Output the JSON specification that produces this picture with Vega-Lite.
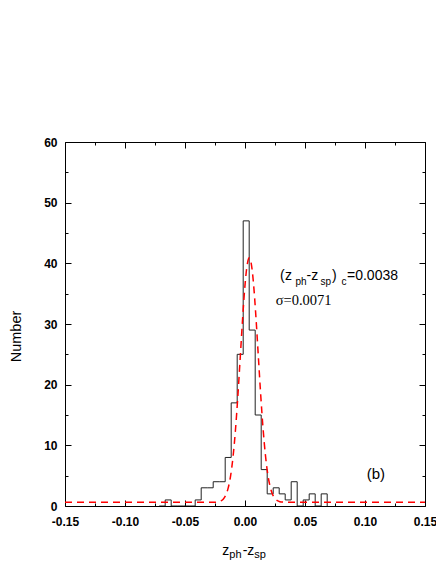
{
  "$schema": "https://vega.github.io/schema/vega-lite/v6.json",
  "width": 360,
  "height": 364,
  "autosize": {"type": "none"},
  "padding": {"left": 65, "top": 142, "right": 11, "bottom": 58},
  "background": "white",
  "config": {
    "view": {"stroke": "black", "strokeWidth": 1},
    "axis": {"grid": false, "domain": false, "tickColor": "black", "tickWidth": 1, "labelColor": "black", "labelFlush": false, "titleColor": "black"}
  },
  "datasets": {
    "hist": [
      {"bin_start": -0.0715, "count": 0},
      {"bin_start": -0.0665, "count": 1},
      {"bin_start": -0.0615, "count": 0},
      {"bin_start": -0.0565, "count": 0},
      {"bin_start": -0.0515, "count": 0},
      {"bin_start": -0.0465, "count": 0},
      {"bin_start": -0.0415, "count": 1},
      {"bin_start": -0.0365, "count": 3},
      {"bin_start": -0.0315, "count": 3},
      {"bin_start": -0.0265, "count": 4},
      {"bin_start": -0.0215, "count": 4},
      {"bin_start": -0.0165, "count": 8},
      {"bin_start": -0.0115, "count": 17},
      {"bin_start": -0.0065, "count": 25},
      {"bin_start": -0.0015, "count": 47},
      {"bin_start": 0.0035, "count": 29},
      {"bin_start": 0.0085, "count": 15},
      {"bin_start": 0.0135, "count": 6},
      {"bin_start": 0.0185, "count": 2},
      {"bin_start": 0.0235, "count": 3},
      {"bin_start": 0.0285, "count": 2},
      {"bin_start": 0.0335, "count": 1},
      {"bin_start": 0.0385, "count": 4},
      {"bin_start": 0.0435, "count": 0},
      {"bin_start": 0.0485, "count": 1},
      {"bin_start": 0.0535, "count": 2},
      {"bin_start": 0.0585, "count": 0},
      {"bin_start": 0.0635, "count": 2},
      {"bin_start": 0.0685, "count": 0}
    ],
    "fit": [
      {"x": -0.15, "y": 0.6},
      {"x": -0.05, "y": 0.6},
      {"x": -0.03, "y": 0.6},
      {"x": -0.025, "y": 0.62},
      {"x": -0.022, "y": 0.7},
      {"x": -0.02, "y": 0.85},
      {"x": -0.018, "y": 1.17},
      {"x": -0.016, "y": 1.81},
      {"x": -0.014, "y": 2.98},
      {"x": -0.012, "y": 4.97},
      {"x": -0.01, "y": 8.05},
      {"x": -0.008, "y": 12.4},
      {"x": -0.006, "y": 17.97},
      {"x": -0.004, "y": 24.38},
      {"x": -0.002, "y": 30.87},
      {"x": -0.001, "y": 33.82},
      {"x": 0, "y": 36.4},
      {"x": 0.001, "y": 38.49},
      {"x": 0.002, "y": 39.97},
      {"x": 0.003, "y": 40.77},
      {"x": 0.0036, "y": 40.9},
      {"x": 0.0045, "y": 40.6},
      {"x": 0.005, "y": 40.19},
      {"x": 0.006, "y": 38.84},
      {"x": 0.007, "y": 36.87},
      {"x": 0.009, "y": 31.48},
      {"x": 0.011, "y": 25.04},
      {"x": 0.013, "y": 18.59},
      {"x": 0.015, "y": 12.9},
      {"x": 0.017, "y": 8.42},
      {"x": 0.019, "y": 5.22},
      {"x": 0.021, "y": 3.14},
      {"x": 0.023, "y": 1.9},
      {"x": 0.025, "y": 1.22},
      {"x": 0.027, "y": 0.87},
      {"x": 0.029, "y": 0.71},
      {"x": 0.032, "y": 0.63},
      {"x": 0.035, "y": 0.6},
      {"x": 0.05, "y": 0.6},
      {"x": 0.15, "y": 0.6}
    ]
  },
  "resolve": {"axis": {"x": "independent", "y": "independent"}},
  "layer": [
    {
      "data": {"name": "hist"},
      "mark": {"type": "line", "interpolate": "step-after", "color": "#222222", "strokeWidth": 1, "clip": true},
      "encoding": {
        "x": {"field": "bin_start", "type": "quantitative",
              "scale": {"domain": [-0.15, 0.15], "nice": false, "zero": false},
              "axis": {"orient": "bottom", "values": [-0.15, -0.1, -0.05, 0, 0.05, 0.1, 0.15], "tickSize": -6, "labelPadding": 16,
                       "labelFont": "Liberation Sans", "labelFontWeight": "bold", "labelFontSize": 12,
                       "labelExpr": "replace(format(datum.value, '.2f'), '\u2212', '-')", "title": null}},
        "y": {"field": "count", "type": "quantitative",
              "scale": {"domain": [0, 60], "nice": false, "zero": false},
              "axis": {"orient": "left", "values": [0, 10, 20, 30, 40, 50, 60], "tickSize": -6, "labelPadding": 14,
                       "labelFont": "Liberation Sans", "labelFontWeight": "bold", "labelFontSize": 12, "format": "d",
                       "title": "Number", "titleFont": "Liberation Sans", "titleFontSize": 14.5, "titleFontWeight": "normal",
                       "titleX": -45, "titleY": 194, "titleAngle": -90, "titleAlign": "center", "titleBaseline": "alphabetic"}}
      }
    },
    {
      "data": {"name": "fit"},
      "mark": {"type": "line", "interpolate": "monotone", "color": "#ff0000", "strokeWidth": 1.5, "strokeDash": [7, 5], "clip": true},
      "encoding": {
        "x": {"field": "x", "type": "quantitative",
              "axis": {"orient": "top", "values": [-0.15, -0.1, -0.05, 0, 0.05, 0.1, 0.15], "tickSize": -6, "labels": false, "title": null}},
        "y": {"field": "y", "type": "quantitative",
              "axis": {"orient": "right", "values": [0, 10, 20, 30, 40, 50, 60], "tickSize": -6, "labels": false, "title": null}}
      }
    },
    {
      "data": {"name": "hist"},
      "mark": {"type": "point", "opacity": 0},
      "encoding": {
        "x": {"field": "bin_start", "type": "quantitative",
              "axis": {"orient": "bottom", "values": [-0.125, -0.075, -0.025, 0.025, 0.075, 0.125], "tickSize": -3, "labels": false, "title": null}},
        "y": {"field": "count", "type": "quantitative",
              "axis": {"orient": "left", "values": [5, 15, 25, 35, 45, 55], "tickSize": -3, "labels": false, "title": null}}
      }
    },
    {
      "data": {"name": "hist"},
      "mark": {"type": "point", "opacity": 0},
      "encoding": {
        "x": {"field": "bin_start", "type": "quantitative",
              "axis": {"orient": "top", "values": [-0.125, -0.075, -0.025, 0.025, 0.075, 0.125], "tickSize": -3, "labels": false, "title": null}},
        "y": {"field": "count", "type": "quantitative",
              "axis": {"orient": "right", "values": [5, 15, 25, 35, 45, 55], "tickSize": -3, "labels": false, "title": null}}
      }
    },
    {
      "data": {"values": [{}]},
      "mark": {"type": "text", "align": "left", "baseline": "alphabetic", "font": "Liberation Sans", "fontSize": 14, "color": "black"},
      "encoding": {"x": {"datum": 0.02917, "type": "quantitative", "axis": null}, "y": {"datum": 37.25, "type": "quantitative", "axis": null}, "text": {"value": "("}}
    },
    {
      "data": {"values": [{}]},
      "mark": {"type": "text", "align": "left", "baseline": "alphabetic", "font": "Liberation Sans", "fontSize": 14, "color": "black"},
      "encoding": {"x": {"datum": 0.03333, "type": "quantitative", "axis": null}, "y": {"datum": 37.25, "type": "quantitative", "axis": null}, "text": {"value": "z"}}
    },
    {
      "data": {"values": [{}]},
      "mark": {"type": "text", "align": "left", "baseline": "alphabetic", "font": "Liberation Sans", "fontSize": 10, "color": "black"},
      "encoding": {"x": {"datum": 0.04208, "type": "quantitative", "axis": null}, "y": {"datum": 36.51, "type": "quantitative", "axis": null}, "text": {"value": "ph"}}
    },
    {
      "data": {"values": [{}]},
      "mark": {"type": "text", "align": "left", "baseline": "alphabetic", "font": "Liberation Sans", "fontSize": 14, "color": "black"},
      "encoding": {"x": {"datum": 0.05125, "type": "quantitative", "axis": null}, "y": {"datum": 37.25, "type": "quantitative", "axis": null}, "text": {"value": "-z"}}
    },
    {
      "data": {"values": [{}]},
      "mark": {"type": "text", "align": "left", "baseline": "alphabetic", "font": "Liberation Sans", "fontSize": 10, "color": "black"},
      "encoding": {"x": {"datum": 0.06292, "type": "quantitative", "axis": null}, "y": {"datum": 36.4, "type": "quantitative", "axis": null}, "text": {"value": "sp"}}
    },
    {
      "data": {"values": [{}]},
      "mark": {"type": "text", "align": "left", "baseline": "alphabetic", "font": "Liberation Sans", "fontSize": 14, "color": "black"},
      "encoding": {"x": {"datum": 0.0725, "type": "quantitative", "axis": null}, "y": {"datum": 37.25, "type": "quantitative", "axis": null}, "text": {"value": ")"}}
    },
    {
      "data": {"values": [{}]},
      "mark": {"type": "text", "align": "left", "baseline": "alphabetic", "font": "Liberation Sans", "fontSize": 10, "color": "black"},
      "encoding": {"x": {"datum": 0.08042, "type": "quantitative", "axis": null}, "y": {"datum": 36.35, "type": "quantitative", "axis": null}, "text": {"value": "c"}}
    },
    {
      "data": {"values": [{}]},
      "mark": {"type": "text", "align": "left", "baseline": "alphabetic", "font": "Liberation Sans", "fontSize": 14, "color": "black"},
      "encoding": {"x": {"datum": 0.085, "type": "quantitative", "axis": null}, "y": {"datum": 37.25, "type": "quantitative", "axis": null}, "text": {"value": "=0.0038"}}
    },
    {
      "data": {"values": [{}]},
      "mark": {"type": "text", "align": "left", "baseline": "alphabetic", "font": "Liberation Serif", "fontSize": 14.5, "color": "black"},
      "encoding": {"x": {"datum": 0.02558, "type": "quantitative", "axis": null}, "y": {"datum": 33.13, "type": "quantitative", "axis": null}, "text": {"value": "σ=0.0071"}}
    },
    {
      "data": {"values": [{}]},
      "mark": {"type": "text", "align": "left", "baseline": "alphabetic", "font": "Liberation Sans", "fontSize": 15, "color": "black"},
      "encoding": {"x": {"datum": 0.1014, "type": "quantitative", "axis": null}, "y": {"datum": 4.53, "type": "quantitative", "axis": null}, "text": {"value": "(b)"}}
    },
    {
      "data": {"values": [{}]},
      "mark": {"type": "text", "align": "left", "baseline": "alphabetic", "font": "Liberation Sans", "fontSize": 14, "color": "black"},
      "encoding": {"x": {"datum": -0.01892, "type": "quantitative", "axis": null}, "y": {"datum": -8.08, "type": "quantitative", "axis": null}, "text": {"value": "z"}}
    },
    {
      "data": {"values": [{}]},
      "mark": {"type": "text", "align": "left", "baseline": "alphabetic", "font": "Liberation Sans", "fontSize": 11, "color": "black"},
      "encoding": {"x": {"datum": -0.01308, "type": "quantitative", "axis": null}, "y": {"datum": -8.57, "type": "quantitative", "axis": null}, "text": {"value": "ph"}}
    },
    {
      "data": {"values": [{}]},
      "mark": {"type": "text", "align": "left", "baseline": "alphabetic", "font": "Liberation Sans", "fontSize": 14, "color": "black"},
      "encoding": {"x": {"datum": -0.00192, "type": "quantitative", "axis": null}, "y": {"datum": -8.08, "type": "quantitative", "axis": null}, "text": {"value": "-z"}}
    },
    {
      "data": {"values": [{}]},
      "mark": {"type": "text", "align": "left", "baseline": "alphabetic", "font": "Liberation Sans", "fontSize": 11, "color": "black"},
      "encoding": {"x": {"datum": 0.00775, "type": "quantitative", "axis": null}, "y": {"datum": -8.57, "type": "quantitative", "axis": null}, "text": {"value": "sp"}}
    }
  ]
}
